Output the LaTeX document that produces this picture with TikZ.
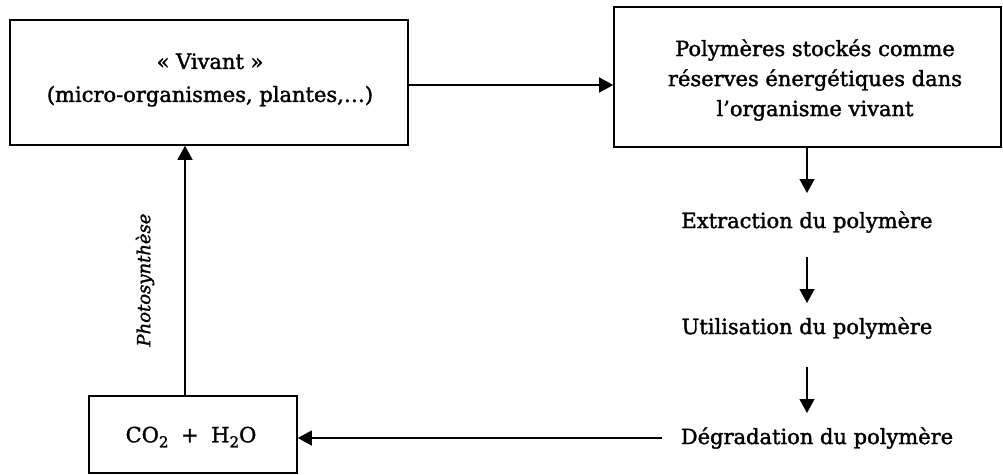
\documentclass[tikz,border=0pt]{standalone}
\usepackage{fontspec}
\setmainfont{DejaVu Serif}[FakeBold=1.6]
\usetikzlibrary{arrows.meta}
\begin{document}
\begin{tikzpicture}[x=1pt,y=-1pt,
  box/.style={draw,line width=1.6pt,inner sep=0pt},
  lbl/.style={font=\fontsize{21}{30}\selectfont,align=center,inner sep=0pt},
  arr/.style={line width=1.3pt,-{Triangle[width=15pt,length=14pt]}},
  ln/.style={line width=1.3pt}]
\useasboundingbox (0,0) rectangle (1003,474);
\node[box,minimum width=398pt,minimum height=125pt] (vivant) at (209,82.5) {};
\node[lbl,font=\fontsize{21}{33}\selectfont] (vivtxt) at (210,80) {« Vivant »\\(micro-organismes, plantes,…)};
\node[box,minimum width=387pt,minimum height=140pt] (poly) at (807.5,77) {};
\node[lbl] (polytxt) at (815,80) {Polymères stockés comme\\réserves énergétiques dans\\l’organisme vivant};
\node[box,minimum width=208pt,minimum height=77pt] (co2) at (193,434.5) {};
\node[lbl] (co2txt) at (191,437) {CO\raisebox{-5pt}{\fontsize{15}{15}\selectfont 2}\hspace{0.6em}+\hspace{0.6em}H\raisebox{-5pt}{\fontsize{15}{15}\selectfont 2}O};
\node[lbl] (extr) at (807,222) {Extraction du polymère};
\node[lbl] (util) at (807,328) {Utilisation du polymère};
\node[lbl] (degr) at (817,438) {Dégradation du polymère};
\node[font=\fontsize{18}{20}\selectfont\itshape,rotate=90,inner sep=0pt] (photo) at (145,280) {Photosynthèse};
\coordinate (vx) at (185,0);
\coordinate (dstart) at (662,438);
\draw[arr] (vivant.east |- 0,85) -- (poly.west |- 0,85);
\draw[arr] (poly.south -| 807,0) -- (807,193);
\draw[arr] (807,257) -- (807,303);
\draw[arr] (807,367) -- (807,413);
\draw[arr] (dstart) -- (co2.east |- dstart);
\draw[arr] (co2.north -| vx) -- (vivant.south -| vx);
\end{tikzpicture}
\end{document}
